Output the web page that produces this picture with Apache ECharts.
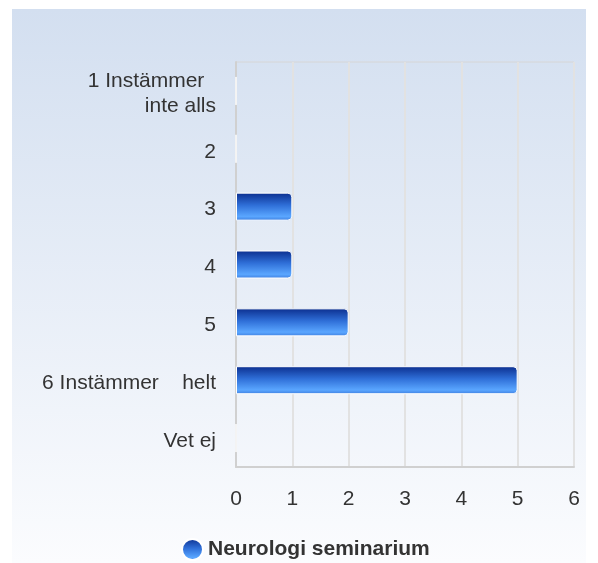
<!DOCTYPE html>
<html lang="sv">
<head>
    <meta charset="UTF-8">
    <title>Neurologi seminarium</title>
    <style>
        body { margin: 0; background: #ffffff; }
        #main { width: 598px; height: 563px; }
    </style>
    <script src="https://cdn.jsdelivr.net/npm/echarts@6/dist/echarts.min.js"></script>
</head>
<body>
<div id="main"></div>
<script>
    // svarsalternativ, uppifrån och ned
    var categories = ['1 Instämmer  \ninte alls', '2', '3', '4', '5', '6 Instämmer    helt', 'Vet ej'];
    var values = [0, 0, 1, 1, 2, 5, 0];
    var seriesName = 'Neurologi seminarium';
    var xTicks = [0, 6, 1]; // min, max, interval

    var chart = echarts.init(document.getElementById('main'));
    var font = "'Liberation Sans', Arial, sans-serif";

    var barColor = new echarts.graphic.LinearGradient(0, 0, 0, 1, [
        { offset: 0, color: '#0b2e8e' },
        { offset: 0.45, color: '#2f6fd8' },
        { offset: 0.85, color: '#5aa6ff' },
        { offset: 1, color: '#3f7fe0' }
    ]);

    var option = {
        animation: false,
        textStyle: { fontFamily: font },
        graphic: [{
            type: 'rect',
            z: -10,
            silent: true,
            shape: { x: 12, y: 9, width: 574, height: 554 },
            style: {
                fill: new echarts.graphic.LinearGradient(0, 0, 0, 1, [
                    { offset: 0, color: '#d3dff0' },
                    { offset: 1, color: '#fbfcfe' }
                ])
            }
        }],
        grid: {
            left: 236, right: 24, top: 62, bottom: 96,
            show: true,
            borderColor: '#d6d6d6',
            borderWidth: 1
        },
        legend: {
            data: [seriesName],
            left: 176,
            top: 533,
            icon: 'circle',
            itemWidth: 21,
            itemHeight: 21,
            itemGap: 7,
            textStyle: { fontSize: 21, fontWeight: 'bold', color: '#333', fontFamily: font }
        },
        xAxis: {
            type: 'value',
            min: xTicks[0],
            max: xTicks[1],
            interval: xTicks[2],
            axisLine: { show: true, lineStyle: { color: '#d0d0d0', width: 2 } },
            axisTick: { show: false },
            axisLabel: { fontSize: 21, color: '#333', margin: 22 },
            splitLine: { show: true, lineStyle: { color: '#e2e2e2', width: 2 } }
        },
        yAxis: {
            type: 'category',
            data: categories,
            inverse: true,
            axisLine: { show: true, lineStyle: { color: '#d0d0d0', width: 2 } },
            axisTick: { show: false },
            axisLabel: {
                margin: 20,
                align: 'right',
                formatter: function (v) {
                    return v.split('\n').map(function (s) { return '{t|' + s + '}'; }).join('\n');
                },
                rich: {
                    t: { fontSize: 21, color: '#333', lineHeight: 25, padding: [6, 0, 0, 0], fontFamily: font }
                }
            }
        },
        series: [{
            name: seriesName,
            type: 'bar',
            data: values,
            barWidth: 28,
            itemStyle: {
                color: barColor,
                borderColor: '#ffffff',
                borderWidth: 1,
                borderRadius: [0, 4, 4, 0]
            }
        }]
    };

    chart.setOption(option);
</script>
</body>
</html>
